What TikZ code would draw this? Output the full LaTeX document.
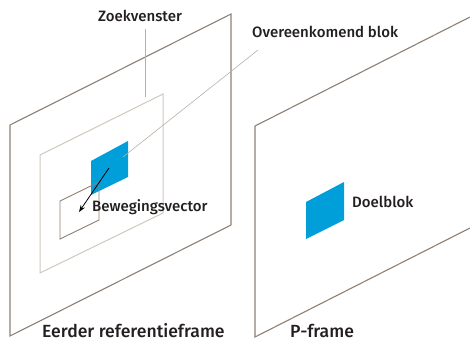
\documentclass[tikz,border=0pt]{standalone}
\usepackage{fontspec}
\setmainfont{Fira Sans Medium}
\usetikzlibrary{arrows.meta}
\definecolor{framec}{HTML}{8E7F72}
\definecolor{winc}{HTML}{D0C8BF}
\definecolor{leadc}{HTML}{B9AFA6}
\definecolor{blockc}{HTML}{009FDA}
\definecolor{txtc}{HTML}{231F20}
\begin{document}
\begin{tikzpicture}[x=1pt,y=-1pt,
  framestyle/.style={draw=framec,line width=1.1pt,line join=miter},
  winstyle/.style={draw=winc,line width=1pt},
  leader/.style={draw=leadc,line width=0.6pt},
  blockstyle/.style={fill=blockc,draw=none},
  lbl/.style={inner sep=0pt,anchor=base west,text=txtc,font=\fontsize{15}{17}\selectfont},
  biglbl/.style={inner sep=0pt,anchor=base west,text=txtc,font=\fontsize{17.6}{20}\selectfont}]
\useasboundingbox (0,0) rectangle (470,342);
% left frame
\draw[framestyle] (10,125) -- (231,14) -- (231,225) -- (10,336) -- cycle;
% search window
\draw[winstyle] (40,155) -- (163,94) -- (163,213) -- (40,273) -- cycle;
% matching block
\fill[blockstyle] (91,161) -- (128,141) -- (128,177) -- (91,195) -- cycle;
\coordinate (mb) at (109,168);
% small rect (displaced position)
\draw[framestyle,line width=0.9pt] (60,201) -- (99,182) -- (99,220) -- (60,239) -- cycle;
\coordinate (sr) at (79,212);
\draw[-{Stealth[length=7pt,width=5pt]},line width=0.8pt,black] (mb) -- (sr);
% right frame (cropped at right edge)
\draw[framestyle] (470,17) -- (255,126) -- (255,337) -- (470,228);
% target block
\fill[blockstyle] (306,202) -- (344,182) -- (344,220) -- (306,239) -- cycle;
% labels
\node[lbl] (zv) at (98,22) {Zoekvenster};
\node[lbl] (ob) at (252,37.5) {Overeenkomend blok};
\node[lbl] (bv) at (92,211) {Bewegingsvector};
\node[lbl] (db) at (352,207) {Doelblok};
\node[biglbl] (erf) at (42,337.5) {Eerder referentieframe};
\node[biglbl] (pf) at (290,337.5) {P-frame};
% leaders
\coordinate (zvend) at (145,97);
\draw[leader] (145,29) -- (zvend);
\coordinate (obend) at (123,157);
\draw[leader] (258,50) -- (obend);
\end{tikzpicture}
\end{document}
